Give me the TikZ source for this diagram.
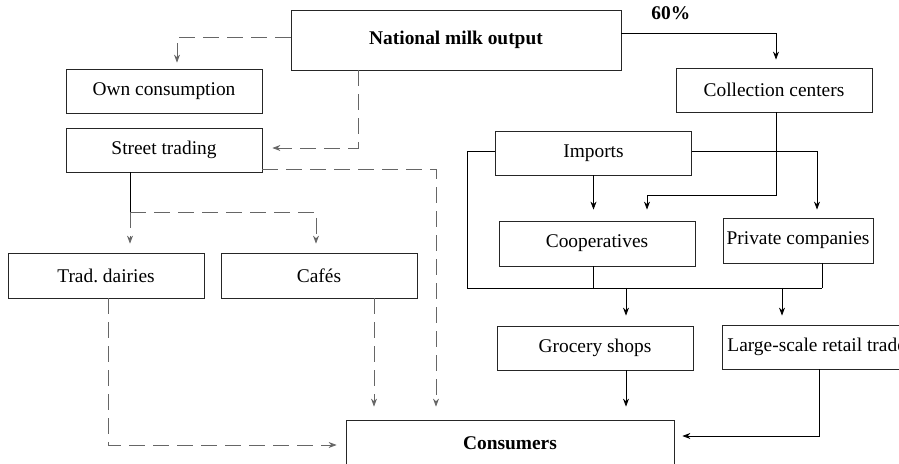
\documentclass[tikz,border=0pt]{standalone}
\usepackage{fontspec}
\setmainfont{Liberation Serif}
\usetikzlibrary{arrows.meta,calc}

\tikzset{
  box/.style={draw=black!85, minimum width=98pt, minimum height=22pt, inner sep=1.5pt},
  link/.style={-{Stealth[length=4pt,width=3pt]}},
  dsh/.style={draw=black!60, dash pattern=on 8pt off 4pt},
}

\begin{document}
\begin{tikzpicture}[x=0.5pt,y=-0.5pt,font=\fontsize{9.7}{11.6}\selectfont]
\useasboundingbox (0,0) rectangle (899,464);
\clip (0,0) rectangle (899,464);
\node[box,minimum width=165pt,minimum height=30pt] (nat) at (456,40) {\textbf{National milk output}};
\node[box] (own) at (164,91) {Own consumption};
\node[box] (street) at (164,150) {Street trading};
\node[box,minimum height=22.5pt] (dairies) at (106,275.5) {Trad.\ dairies};
\node[box,minimum height=22.5pt] (cafes) at (319,275.5) {Cafés};
\node[box,minimum width=164pt,minimum height=23pt] (cons) at (510,443) {\textbf{Consumers}};
\node[box] (coll) at (774,90) {Collection centers};
\node[box] (imp) at (593.5,153) {Imports};
\node[box,minimum height=22.5pt] (coop) at (597,243.5) {Cooperatives};
\node[box,minimum width=75pt,minimum height=22.5pt] (priv) at (798,240.5) {Private companies};
\node[box] (groc) at (595,348) {Grocery shops};
\node[box,anchor=west,minimum width=0pt,inner xsep=2.5pt] (large) at (722,347) {Large-scale retail trade};
\coordinate (split) at (130,212);
\coordinate (tap) at (647,195);
\coordinate (busL) at (467,288);
\coordinate (busR) at (822,288);
\coordinate (g1) at (626,288);
\coordinate (l1) at (782,288);

\draw[dsh,link] ([yshift=1.5pt]nat.west) -| ([xshift=6.5pt,yshift=3pt]own.north);
\draw[dsh,link] ([xshift=-49pt]nat.south) |- ([xshift=5pt,yshift=1pt]street.east);
\draw[dsh,link] ([yshift=-9.5pt]street.east) -| ([xshift=-37pt,yshift=6.5pt]cons.north);
\draw ([xshift=-17pt]street.south) -- (split);
\draw[dsh,link] (split) -- ([xshift=12pt,yshift=4.5pt]dairies.north);
\draw[dsh,link] (split) -| ([xshift=-1.5pt,yshift=4.5pt]cafes.north);
\draw[dsh,link] ([xshift=1pt]dairies.south) |- ([xshift=-4.5pt,yshift=-1pt]cons.west);
\draw[dsh,link] ([xshift=27.5pt]cafes.south) -- ([xshift=-68pt,yshift=6.5pt]cons.north);

\draw[link] ([yshift=3.5pt]nat.east) -| ([xshift=1pt,yshift=4pt]coll.north) node[pos=0.16,above=3pt]{\textbf{60\%}};
\draw[link] ([xshift=1pt]coll.south) |- (tap) -- ($(tap |- coop.north)+(0,-11)$);
\draw[link] (imp.south) -- ($(imp.south |- coop.north)+(0,-11)$);
\draw[link] ([yshift=1pt]imp.east) -| ($(priv.north)+(19,-8)$);
\draw ([yshift=1pt]imp.west) -| (busL) -- (busR);
\draw ($(coop.south)+(-4,0)$) -- ($(coop.south |- busL)+(-4,0)$);
\draw (priv.south -| busR) -- (busR);
\draw[link] (g1) -- ($(g1 |- groc.north)+(0,-10)$);
\draw[link] (l1) -- ($(l1 |- large.north)+(0,-9)$);
\draw[link] (g1 |- groc.south) -- ($(g1 |- cons.north)+(0,-13)$);
\draw[link] ($(large.south west)+(97,0)$) |- ($(cons.east)+(8,-7)$);
\end{tikzpicture}
\end{document}
